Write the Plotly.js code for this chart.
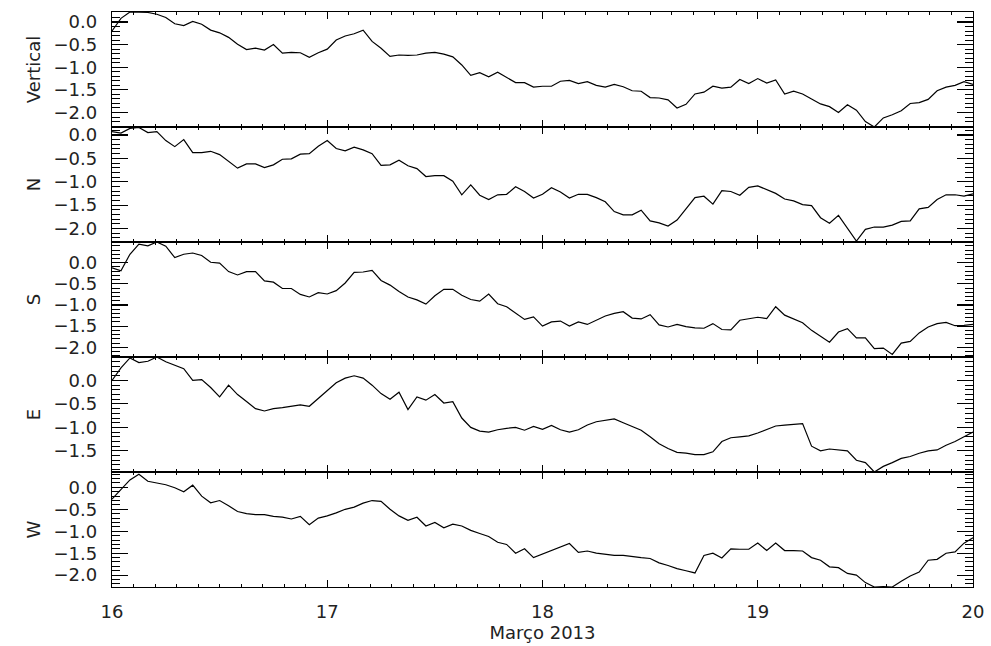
<!DOCTYPE html>
<html>
<head>
<meta charset="utf-8">
<script src="https://cdn.plot.ly/plotly-3.0.1.min.js"></script>
<style>
html,body{margin:0;padding:0;background:#fff;}
#chart{width:991px;height:646px;}
</style>
</head>
<body>
<div id="chart"></div>
<script>
// Hourly samples, 16 March 00h to 20 March 00h (97 points)
const startDay = 16;
const stepDay = 1 / 24;

const panelNames = ["Vertical", "N", "S", "E", "W"];

const vertical = [-0.20,0.08,0.22,0.22,0.21,0.17,0.10,-0.04,-0.08,0.01,-0.05,-0.18,-0.24,-0.34,-0.49,-0.61,-0.58,-0.62,-0.50,-0.69,-0.67,-0.68,-0.78,-0.68,-0.60,-0.40,-0.31,-0.26,-0.18,-0.43,-0.58,-0.76,-0.73,-0.74,-0.73,-0.69,-0.67,-0.71,-0.77,-0.95,-1.18,-1.12,-1.21,-1.11,-1.22,-1.34,-1.34,-1.44,-1.42,-1.42,-1.31,-1.29,-1.36,-1.32,-1.40,-1.44,-1.38,-1.43,-1.52,-1.53,-1.67,-1.68,-1.72,-1.90,-1.82,-1.59,-1.55,-1.42,-1.46,-1.44,-1.27,-1.36,-1.25,-1.35,-1.28,-1.59,-1.53,-1.59,-1.70,-1.81,-1.87,-2.00,-1.83,-1.95,-2.20,-2.32,-2.12,-2.05,-1.96,-1.80,-1.78,-1.71,-1.52,-1.44,-1.40,-1.32,-1.38];

const north = [0.07,0.04,0.14,0.16,0.05,0.07,-0.12,-0.25,-0.10,-0.38,-0.38,-0.35,-0.42,-0.57,-0.71,-0.62,-0.62,-0.70,-0.64,-0.52,-0.51,-0.41,-0.40,-0.24,-0.12,-0.29,-0.34,-0.26,-0.32,-0.40,-0.65,-0.64,-0.54,-0.66,-0.72,-0.89,-0.87,-0.87,-0.99,-1.28,-1.07,-1.29,-1.38,-1.28,-1.27,-1.11,-1.21,-1.35,-1.27,-1.13,-1.22,-1.35,-1.27,-1.27,-1.34,-1.43,-1.64,-1.71,-1.71,-1.61,-1.84,-1.88,-1.95,-1.82,-1.57,-1.34,-1.31,-1.48,-1.19,-1.21,-1.29,-1.12,-1.09,-1.17,-1.25,-1.37,-1.41,-1.49,-1.51,-1.77,-1.89,-1.72,-2.00,-2.27,-2.02,-1.97,-1.97,-1.93,-1.85,-1.84,-1.58,-1.55,-1.38,-1.28,-1.28,-1.31,-1.26];

const south = [-0.12,-0.19,0.20,0.44,0.40,0.49,0.39,0.12,0.20,0.23,0.17,0.01,-0.01,-0.21,-0.29,-0.21,-0.21,-0.43,-0.46,-0.61,-0.61,-0.75,-0.81,-0.71,-0.74,-0.66,-0.48,-0.23,-0.22,-0.18,-0.42,-0.53,-0.68,-0.81,-0.88,-0.98,-0.78,-0.63,-0.63,-0.77,-0.87,-0.91,-0.74,-0.97,-1.04,-1.18,-1.34,-1.28,-1.50,-1.40,-1.38,-1.50,-1.40,-1.46,-1.36,-1.26,-1.20,-1.16,-1.31,-1.33,-1.23,-1.47,-1.52,-1.46,-1.51,-1.54,-1.55,-1.44,-1.58,-1.59,-1.36,-1.32,-1.29,-1.32,-1.04,-1.24,-1.33,-1.42,-1.60,-1.75,-1.88,-1.64,-1.56,-1.78,-1.78,-2.03,-2.02,-2.17,-1.90,-1.86,-1.66,-1.52,-1.44,-1.41,-1.49,-1.48,-1.46];

const east = [0.00,0.27,0.48,0.38,0.41,0.50,0.40,0.33,0.25,0.00,0.02,-0.15,-0.35,-0.10,-0.30,-0.45,-0.60,-0.65,-0.60,-0.58,-0.55,-0.52,-0.55,-0.38,-0.20,-0.05,0.05,0.10,0.05,-0.10,-0.28,-0.40,-0.25,-0.62,-0.35,-0.42,-0.30,-0.48,-0.45,-0.80,-1.00,-1.08,-1.10,-1.05,-1.02,-1.00,-1.06,-0.98,-1.04,-0.96,-1.05,-1.10,-1.05,-0.95,-0.88,-0.85,-0.82,-0.90,-0.98,-1.06,-1.20,-1.35,-1.45,-1.53,-1.55,-1.58,-1.58,-1.52,-1.30,-1.22,-1.20,-1.18,-1.12,-1.05,-0.97,-0.95,-0.93,-0.92,-1.40,-1.50,-1.46,-1.48,-1.50,-1.70,-1.75,-1.95,-1.83,-1.75,-1.66,-1.62,-1.55,-1.50,-1.48,-1.38,-1.30,-1.20,-1.10];

const west = [-0.27,-0.05,0.17,0.30,0.14,0.10,0.06,-0.01,-0.10,0.05,-0.20,-0.35,-0.30,-0.42,-0.55,-0.60,-0.62,-0.62,-0.66,-0.68,-0.72,-0.66,-0.85,-0.70,-0.65,-0.58,-0.50,-0.45,-0.36,-0.30,-0.32,-0.50,-0.65,-0.75,-0.68,-0.88,-0.80,-0.92,-0.84,-0.88,-0.98,-1.05,-1.12,-1.25,-1.30,-1.50,-1.40,-1.60,-1.52,-1.44,-1.35,-1.28,-1.48,-1.45,-1.50,-1.52,-1.55,-1.55,-1.58,-1.60,-1.62,-1.72,-1.78,-1.85,-1.90,-1.95,-1.55,-1.50,-1.61,-1.40,-1.41,-1.41,-1.27,-1.44,-1.27,-1.44,-1.44,-1.45,-1.60,-1.66,-1.81,-1.83,-1.96,-2.00,-2.17,-2.27,-2.26,-2.27,-2.14,-2.02,-1.93,-1.66,-1.64,-1.50,-1.47,-1.27,-1.15];

const yRanges = [[-2.32, 0.22], [-2.29, 0.17], [-2.23, 0.49], [-1.95, 0.50], [-2.27, 0.35]];
const yTickVals = [[0, -0.5, -1, -1.5, -2], [0, -0.5, -1, -1.5, -2], [0, -0.5, -1, -1.5, -2], [0, -0.5, -1, -1.5], [0, -0.5, -1, -1.5, -2]];
const xTickVals = [16, 17, 18, 19, 20];
const xTitle = "Março 2013";

const series = [vertical, north, south, east, west];

const FONT = "DejaVu Sans, Liberation Sans, sans-serif";
const TXT = "#222";
const data = [];
const layout = {
  width: 991, height: 646,
  margin: {l: 112, r: 18, t: 12, b: 59},
  paper_bgcolor: "#fff", plot_bgcolor: "#fff",
  showlegend: false,
  font: {family: FONT, color: TXT, size: 18}
};

const n = panelNames.length;
series.forEach((vals, i) => {
  const xs = vals.map((_, k) => startDay + k * stepDay);
  const idx = i === 0 ? "" : String(i + 1);
  data.push({
    x: xs, y: vals, type: "scatter", mode: "lines",
    line: {color: "#000", width: 1.2},
    xaxis: "x" + idx, yaxis: "y" + idx, hoverinfo: "skip"
  });
  const top = 1 - i / n, bot = 1 - (i + 1) / n;
  const isBottom = i === n - 1;
  layout["xaxis" + idx] = {
    domain: [0, 1], anchor: "y" + idx,
    range: [16, 20], tickmode: "array", tickvals: xTickVals,
    ticktext: xTickVals.map(String),
    showticklabels: isBottom,
    ticks: "inside", ticklen: 7, tickwidth: 1.2, tickcolor: "#000",
    minor: {ticks: "inside", ticklen: 3, tickwidth: 1, tickcolor: "#000", tickmode: "linear", tick0: 16, dtick: 0.1, showgrid: false},
    showline: true, linecolor: "#000", linewidth: 1.2, mirror: "ticks",
    showgrid: false, zeroline: false,
    ticklabelstandoff: 8,
    tickfont: {size: 18, family: FONT, color: TXT},
    title: isBottom ? {text: xTitle, font: {size: 18, family: FONT, color: TXT}, standoff: 4} : {text: ""}
  };
  layout["yaxis" + idx] = {
    domain: [bot, top], anchor: "x" + idx,
    range: yRanges[i], tickmode: "array", tickvals: yTickVals[i],
    ticktext: yTickVals[i].map(v => v.toFixed(1).replace("-", "\u2212")),
    ticks: "inside", ticklen: 16, tickwidth: 1.1, tickcolor: "#000",
    minor: {ticks: "inside", ticklen: 8, tickwidth: 1, tickcolor: "#000", tickmode: "linear", tick0: 0, dtick: 0.1, showgrid: false},
    showline: true, linecolor: "#000", linewidth: 1.2, mirror: "ticks",
    showgrid: false, zeroline: false,
    ticklabelstandoff: 10,
    tickfont: {size: 18, family: FONT, color: TXT},
    title: {text: panelNames[i], font: {size: 18, family: FONT, color: TXT}, standoff: 8}
  };
});

Plotly.newPlot("chart", data, layout, {staticPlot: true, displayModeBar: false});
</script>
</body>
</html>
